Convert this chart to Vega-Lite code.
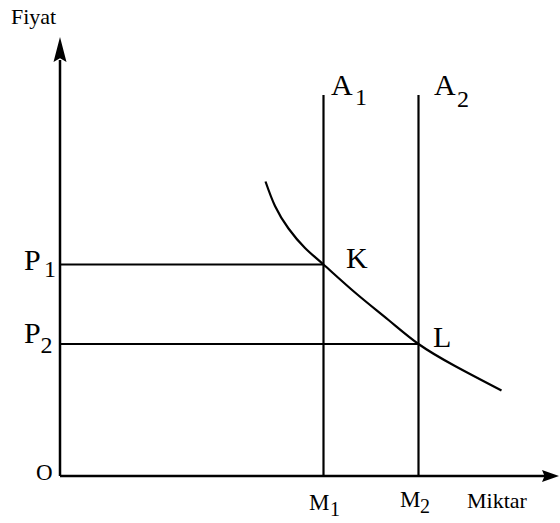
{
  "$schema": "https://vega.github.io/schema/vega-lite/v6.json",
  "width": 560,
  "height": 523,
  "padding": 0,
  "autosize": {"type": "none"},
  "background": "white",
  "config": {"view": {"stroke": null}},
  "datasets": {
    "axes": [
      {"name": "yaxis", "x": 0, "y": 0, "x2": 0, "y2": 83.2},
      {"name": "xaxis", "x": 0, "y": 0, "x2": 97, "y2": 0}
    ],
    "guides": [
      {"name": "A1", "x": 52.7, "y": 0, "x2": 52.7, "y2": 76.2},
      {"name": "A2", "x": 71.7, "y": 0, "x2": 71.7, "y2": 76.2},
      {"name": "P1", "x": 0, "y": 42.3, "x2": 52.7, "y2": 42.3},
      {"name": "P2", "x": 0, "y": 26.4, "x2": 71.7, "y2": 26.4}
    ],
    "curve": [
      {"x": 41.1, "y": 58.9},
      {"x": 43.0, "y": 54.0},
      {"x": 45.7, "y": 49.5},
      {"x": 49.0, "y": 45.6},
      {"x": 52.7, "y": 42.3},
      {"x": 59.0, "y": 36.7},
      {"x": 65.7, "y": 31.2},
      {"x": 71.7, "y": 26.4},
      {"x": 79.0, "y": 22.0},
      {"x": 88.3, "y": 17.1}
    ],
    "bigLabels": [
      {"label": "A", "x": 54.2, "y": 76.2},
      {"label": "A", "x": 74.8, "y": 76.2},
      {"label": "P", "x": -7.2, "y": 41.2},
      {"label": "P", "x": -7.2, "y": 26.6},
      {"label": "K", "x": 57.2, "y": 41.6},
      {"label": "L", "x": 74.6, "y": 25.8}
    ],
    "bigSubs": [
      {"label": "1", "x": 59.0, "y": 74.2},
      {"label": "2", "x": 79.4, "y": 73.8},
      {"label": "1", "x": -3.2, "y": 39.8},
      {"label": "2", "x": -3.9, "y": 24.6}
    ],
    "midLabels": [
      {"label": "M", "x": 49.8, "y": -6.8},
      {"label": "M", "x": 68.0, "y": -6.2},
      {"label": "O", "x": -4.8, "y": -0.8}
    ],
    "midSubs": [
      {"label": "1", "x": 54.0, "y": -8.0},
      {"label": "2", "x": 72.0, "y": -7.4}
    ],
    "axisTitles": [
      {"label": "Fiyat", "x": -9.8, "y": 90.4},
      {"label": "Miktar", "x": 81.4, "y": -6.4}
    ],
    "yArrow": [{"x": 0, "y": 85.3}],
    "xArrow": [{"x": 98.1, "y": 0}]
  },
  "encoding": {
    "x": {"field": "x", "type": "quantitative", "axis": null, "scale": {"domain": [-12, 100], "nice": false, "zero": false}},
    "y": {"field": "y", "type": "quantitative", "axis": null, "scale": {"domain": [-9.4, 95.2], "nice": false, "zero": false}}
  },
  "layer": [
    {
      "data": {"name": "axes"},
      "mark": {"type": "rule", "color": "black", "strokeWidth": 2.5},
      "encoding": {"x2": {"field": "x2"}, "y2": {"field": "y2"}}
    },
    {
      "data": {"name": "guides"},
      "mark": {"type": "rule", "color": "black", "strokeWidth": 2.2},
      "encoding": {"x2": {"field": "x2"}, "y2": {"field": "y2"}}
    },
    {
      "data": {"name": "curve"},
      "mark": {"type": "line", "color": "black", "strokeWidth": 2.2, "interpolate": "natural"},
      "encoding": {"order": {"field": "x", "type": "quantitative"}}
    },
    {
      "data": {"name": "yArrow"},
      "mark": {"type": "point", "shape": "M0,-1L0.52,1L0,0.7L-0.52,1Z", "size": 625, "filled": true, "color": "black", "opacity": 1, "strokeWidth": 0}
    },
    {
      "data": {"name": "xArrow"},
      "mark": {"type": "point", "shape": "M1,0L-1,0.7L-0.7,0L-1,-0.7Z", "size": 289, "filled": true, "color": "black", "opacity": 1, "strokeWidth": 0}
    },
    {
      "data": {"name": "bigLabels"},
      "mark": {"type": "text", "font": "Liberation Serif", "fontSize": 30, "color": "black", "align": "left", "baseline": "alphabetic"},
      "encoding": {"text": {"field": "label"}}
    },
    {
      "data": {"name": "bigSubs"},
      "mark": {"type": "text", "font": "Liberation Serif", "fontSize": 24, "color": "black", "align": "left", "baseline": "alphabetic"},
      "encoding": {"text": {"field": "label"}}
    },
    {
      "data": {"name": "midLabels"},
      "mark": {"type": "text", "font": "Liberation Serif", "fontSize": 23, "color": "black", "align": "left", "baseline": "alphabetic"},
      "encoding": {"text": {"field": "label"}}
    },
    {
      "data": {"name": "midSubs"},
      "mark": {"type": "text", "font": "Liberation Serif", "fontSize": 20, "color": "black", "align": "left", "baseline": "alphabetic"},
      "encoding": {"text": {"field": "label"}}
    },
    {
      "data": {"name": "axisTitles"},
      "mark": {"type": "text", "font": "Liberation Serif", "fontSize": 22, "color": "black", "align": "left", "baseline": "alphabetic"},
      "encoding": {"text": {"field": "label"}}
    }
  ]
}
